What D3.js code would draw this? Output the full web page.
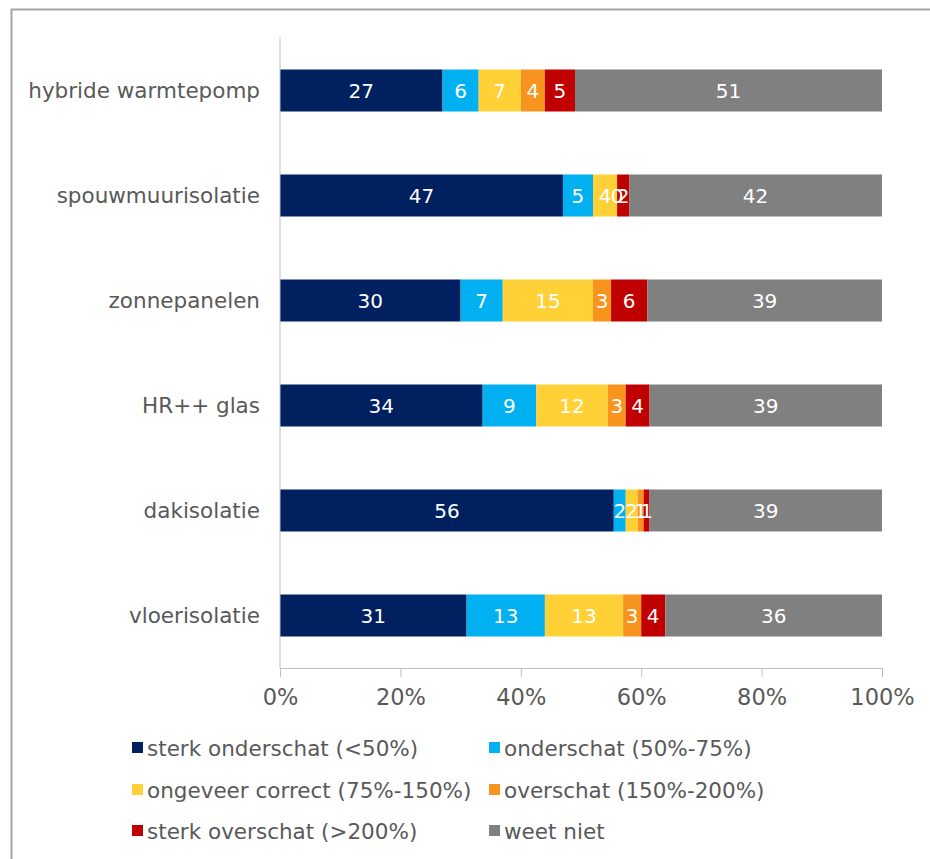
<!DOCTYPE html>
<html>
<head>
<meta charset="utf-8">
<script src="https://cdn.jsdelivr.net/npm/d3@7"></script>
<style>
  html, body { margin: 0; padding: 0; background: #fff; }
  svg { display: block; }
  text { font-family: "DejaVu Sans", Verdana, sans-serif; }
</style>
</head>
<body>
<svg id="chart" width="930" height="859"></svg>
<script>
const categories = ["hybride warmtepomp", "spouwmuurisolatie", "zonnepanelen", "HR++ glas", "dakisolatie", "vloerisolatie"];
const seriesNames = ["sterk onderschat (<50%)", "onderschat (50%-75%)", "ongeveer correct (75%-150%)", "overschat (150%-200%)", "sterk overschat (>200%)", "weet niet"];
const seriesColors = ["#002060", "#00B0F0", "#FFD136", "#F7941D", "#C00000", "#808080"];
const sterkOnderschat = [27, 47, 30, 34, 56, 31];
const onderschat      = [6, 5, 7, 9, 2, 13];
const ongeveerCorrect = [7, 4, 15, 12, 2, 13];
const overschat       = [4, 0, 3, 3, 1, 3];
const sterkOverschat  = [5, 2, 6, 4, 1, 4];
const weetNiet        = [51, 42, 39, 39, 39, 36];
const tickValues = [0, 0.2, 0.4, 0.6, 0.8, 1.0];
const tickLabels = ["0%", "20%", "40%", "60%", "80%", "100%"];

const seriesValues = [sterkOnderschat, onderschat, ongeveerCorrect, overschat, sterkOverschat, weetNiet];
const rows = categories.map((c, i) => {
  const r = { cat: c };
  seriesNames.forEach((s, j) => r[s] = seriesValues[j][i]);
  return r;
});

const svg = d3.select("#chart");
const textFs = 21.5;

// outer frame
svg.append("rect").attr("x", 11.5).attr("y", 9.5).attr("width", 940).attr("height", 870)
  .attr("fill", "none").attr("stroke", "#A6A6A6").attr("stroke-width", 2);

const x = d3.scaleLinear().domain([0, 1]).range([280, 882]);
const y = d3.scaleBand().domain(categories).range([38, 668]).paddingInner(0.6).paddingOuter(0.3);

const stack = d3.stack().keys(seriesNames).offset(d3.stackOffsetExpand);
const stacked = stack(rows);

const g = svg.append("g");
stacked.forEach((layer, j) => {
  const lg = g.append("g");
  lg.selectAll("rect").data(layer).join("rect")
    .attr("x", d => x(d[0]))
    .attr("y", d => y(d.data.cat))
    .attr("width", d => Math.max(0, x(d[1]) - x(d[0])))
    .attr("height", y.bandwidth())
    .attr("fill", seriesColors[j]);
});
stacked.forEach((layer, j) => {
  const lg = g.append("g");
  lg.selectAll("text").data(layer).join("text")
    .attr("x", d => (x(d[0]) + x(d[1])) / 2)
    .attr("y", d => y(d.data.cat) + y.bandwidth() / 2)
    .attr("dy", "0.36em")
    .attr("text-anchor", "middle")
    .attr("fill", "#fff")
    .attr("font-size", 20)
    .text(d => d.data[layer.key]);
});

// category labels
svg.append("g").selectAll("text").data(categories).join("text")
  .attr("x", 260)
  .attr("y", d => y(d) + y.bandwidth() / 2)
  .attr("dy", "0.36em")
  .attr("text-anchor", "end")
  .attr("fill", "#595959")
  .attr("font-size", textFs)
  .text(d => d);

// axes
const axisColor = "#BFBFBF";
const xAxis = d3.axisBottom(x).tickValues(tickValues).tickFormat((d, i) => tickLabels[i]).tickSize(9).tickSizeOuter(0);
const ax = svg.append("g").attr("transform", "translate(0,668)").call(xAxis);
ax.select(".domain").attr("stroke", axisColor);
ax.selectAll(".tick line").attr("stroke", axisColor);
ax.selectAll(".tick text").attr("fill", "#595959").attr("font-size", 22.5)
  .attr("font-family", "DejaVu Sans, Verdana, sans-serif").attr("y", 21).attr("dy", "0.71em");

svg.append("line").attr("x1", 280).attr("x2", 280).attr("y1", 37).attr("y2", 668)
  .attr("stroke", axisColor);

// legend
const legendPos = [[132, 748], [489, 748], [132, 790], [489, 790], [132, 831], [489, 831]];
const lgd = svg.append("g").selectAll("g").data(seriesNames).join("g")
  .attr("transform", (d, i) => `translate(${legendPos[i][0]},${legendPos[i][1]})`);
lgd.append("rect").attr("x", 0).attr("y", -6).attr("width", 11).attr("height", 11)
  .attr("fill", (d, i) => seriesColors[i]);
lgd.append("text").attr("x", 15).attr("y", 0).attr("dy", "0.36em")
  .attr("fill", "#595959").attr("font-size", textFs).text(d => d);
</script>
</body>
</html>
